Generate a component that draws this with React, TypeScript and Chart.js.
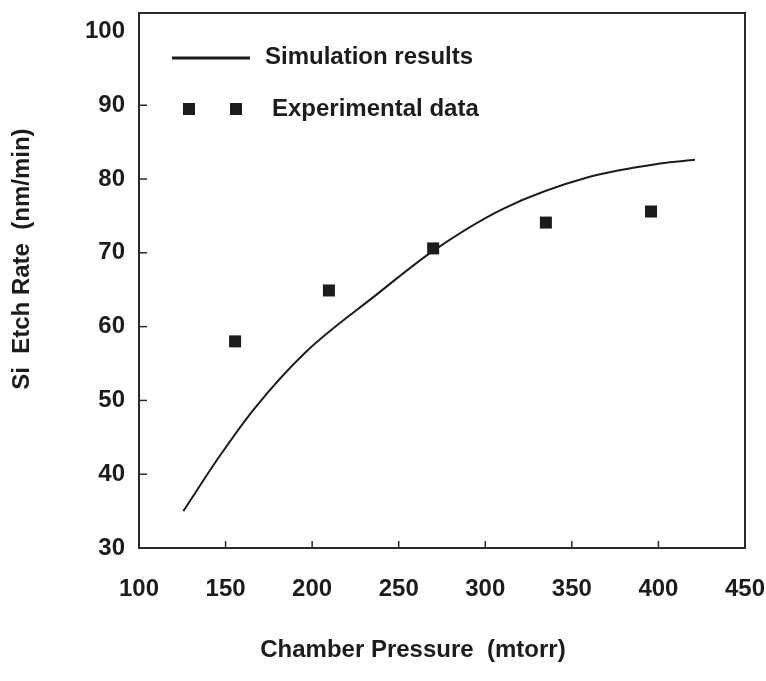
import React, { useEffect, useRef } from "react";
import { Chart, registerables } from "chart.js";

Chart.register(...registerables);

// ---- data ----
const simPressure = [125.6, 146.7, 167.0, 196.5, 237.0, 270.1, 310.6, 360.3, 400.8, 421.1];
const simRate = [35.0, 42.5, 49.0, 56.6, 64.3, 70.3, 76.0, 80.3, 82.1, 82.6];
const expPressure = [155.5, 209.7, 269.9, 335, 395.7];
const expRate = [58.0, 64.9, 70.6, 74.1, 75.6];

const xTickValues = [100, 150, 200, 250, 300, 350, 400, 450];
const yTickValues = [30, 40, 50, 60, 70, 80, 90, 100];

const seriesLabels = ["Simulation results", "Experimental data"];
const xTitle = "Chamber Pressure  (mtorr)";
const yTitle = "Si  Etch Rate  (nm/min)";

const FONT = '"Liberation Sans", Arial, Helvetica, sans-serif';
const INK = "#1c1c1c";

const framePlugin = {
  id: "frame",
  afterDatasetsDraw(chart: any) {
    const { ctx, chartArea: a, scales } = chart;
    ctx.save();
    ctx.strokeStyle = "#2a2a2a";
    ctx.lineWidth = 2;
    ctx.strokeRect(a.left, a.top, a.right - a.left, a.bottom - a.top);
    ctx.lineWidth = 1.5;
    scales.y.ticks.forEach((t: any) => {
      if (t.value <= 30 || t.value >= 100) return;
      const y = scales.y.getPixelForValue(t.value);
      ctx.beginPath();
      ctx.moveTo(a.left, y);
      ctx.lineTo(a.left + 8, y);
      ctx.stroke();
    });
    scales.x.ticks.forEach((t: any) => {
      if (t.value <= 100 || t.value >= 450) return;
      const x = scales.x.getPixelForValue(t.value);
      ctx.beginPath();
      ctx.moveTo(x, a.bottom);
      ctx.lineTo(x, a.bottom - 7);
      ctx.stroke();
    });
    ctx.restore();
  },
};

const legendPlugin = {
  id: "insideLegend",
  afterDraw(chart: any) {
    const { ctx, chartArea: a } = chart;
    const ds = chart.data.datasets;
    ctx.save();
    ctx.font = `bold 24px ${FONT}`;
    ctx.textBaseline = "middle";
    ctx.textAlign = "left";
    const y1 = a.top + 45;
    ctx.strokeStyle = ds[0].borderColor;
    ctx.lineWidth = 3;
    ctx.beginPath();
    ctx.moveTo(a.left + 33, y1);
    ctx.lineTo(a.left + 111, y1);
    ctx.stroke();
    ctx.fillStyle = INK;
    ctx.fillText(ds[0].label, a.left + 126, y1 - 1);
    const y2 = a.top + 96;
    ctx.fillStyle = ds[1].backgroundColor;
    [50, 97].forEach((dx) => ctx.fillRect(a.left + dx - 6, y2 - 6, 12, 12));
    ctx.fillStyle = INK;
    ctx.fillText(ds[1].label, a.left + 133, y2);
    ctx.restore();
  },
};

const titlePlugin = {
  id: "axisTitles",
  afterDraw(chart: any) {
    const { ctx, chartArea: a } = chart;
    ctx.save();
    ctx.fillStyle = INK;
    ctx.font = `bold 24px ${FONT}`;
    ctx.textAlign = "center";
    ctx.textBaseline = "middle";
    ctx.fillText(xTitle, a.left + (a.right - a.left) * 0.452, a.bottom + 102);
    ctx.translate(22, a.top + (a.bottom - a.top) * 0.46);
    ctx.rotate(-Math.PI / 2);
    ctx.fillText(yTitle, 0, 0);
    ctx.restore();
  },
};

export default function App() {
  const canvasRef = useRef<HTMLCanvasElement | null>(null);

  useEffect(() => {
    document.body.style.margin = "0";
    document.body.style.background = "#ffffff";
    const canvas = canvasRef.current;
    if (!canvas) return;
    const tickFont = { family: FONT, size: 24, weight: "bold" as const };
    const chart = new Chart(canvas, {
      type: "scatter",
      data: {
        datasets: [
          {
            label: seriesLabels[0],
            data: simPressure.map((x, i) => ({ x, y: simRate[i] })),
            showLine: true,
            borderColor: INK,
            backgroundColor: INK,
            borderWidth: 2,
            pointRadius: 0,
            cubicInterpolationMode: "monotone",
          } as any,
          {
            label: seriesLabels[1],
            data: expPressure.map((x, i) => ({ x, y: expRate[i] })),
            pointStyle: "rect",
            pointRadius: 8.5,
            borderWidth: 0,
            backgroundColor: INK,
            borderColor: INK,
          } as any,
        ],
      },
      options: {
        animation: false,
        responsive: true,
        maintainAspectRatio: false,
        layout: { padding: { top: 13, right: 21, left: 0, bottom: 0 } },
        plugins: {
          legend: { display: false },
          tooltip: { enabled: false },
        },
        scales: {
          x: {
            type: "linear",
            min: 100,
            max: 450,
            afterBuildTicks: (s: any) => {
              s.ticks = xTickValues.map((v) => ({ value: v }));
            },
            afterFit: (s: any) => {
              s.height = 133;
              s.paddingLeft = 0;
              s.paddingRight = 0;
            },
            grid: { display: false, drawTicks: false },
            border: { display: false },
            ticks: {
              font: tickFont,
              color: INK,
              padding: 27,
              maxRotation: 0,
              autoSkip: false,
            },
          },
          y: {
            type: "linear",
            min: 30,
            max: 102.5,
            afterBuildTicks: (s: any) => {
              s.ticks = yTickValues.map((v) => ({ value: v }));
            },
            afterFit: (s: any) => {
              s.width = 139;
              s.paddingTop = 0;
              s.paddingBottom = 0;
            },
            grid: { display: false, drawTicks: false },
            border: { display: false },
            ticks: {
              font: tickFont,
              color: INK,
              padding: 14,
              autoSkip: false,
            },
          },
        },
      },
      plugins: [framePlugin, legendPlugin, titlePlugin],
    });
    return () => chart.destroy();
  }, []);

  return (
    <div style={{ position: "relative", width: 766, height: 681, background: "#fff" }}>
      <canvas ref={canvasRef} />
    </div>
  );
}
